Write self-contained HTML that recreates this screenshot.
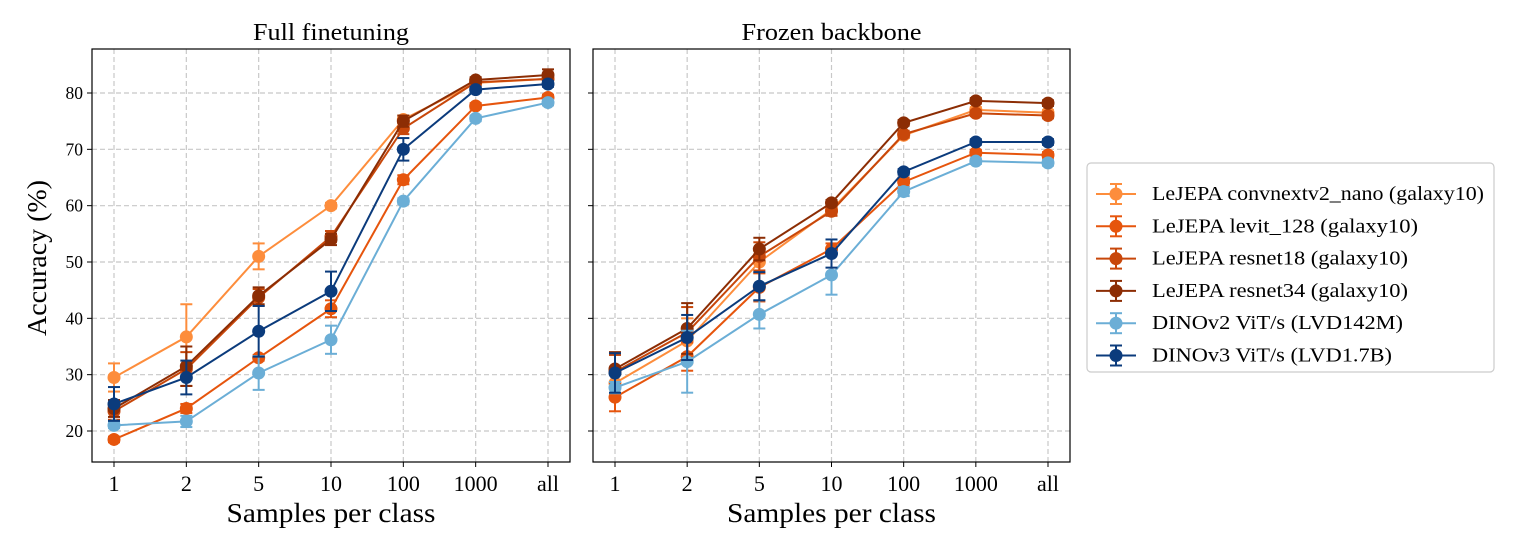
<!DOCTYPE html>
<html><head><meta charset="utf-8"><style>
html,body{margin:0;padding:0;background:#fff;}
svg{display:block;font-family:"Liberation Serif",serif;}
</style></head><body>
<svg id="chart" width="1515" height="546" xmlns="http://www.w3.org/2000/svg"></svg>
<script>
const categories = ["1","2","5","10","100","1000","all"];
const yTicks = [20,30,40,50,60,70,80];
const seriesNames = ["LeJEPA convnextv2_nano (galaxy10)","LeJEPA levit_128 (galaxy10)","LeJEPA resnet18 (galaxy10)","LeJEPA resnet34 (galaxy10)","DINOv2 ViT/s (LVD142M)","DINOv3 ViT/s (LVD1.7B)"];
const seriesColors = ["#fd8d3c","#e6550d","#c8470a","#8c2d04","#6baed6","#0b3b7c"];
const fullConvnext = [29.5,36.7,51.0,60.0,75.3,81.8,82.5];
const fullLevit = [18.5,24.0,33.0,41.7,64.6,77.7,79.2];
const fullResnet18 = [23.5,31.0,43.7,54.5,73.7,81.9,82.5];
const fullResnet34 = [24.0,31.5,44.0,54.0,75.0,82.3,83.2];
const fullDinov2 = [21.0,21.7,30.3,36.2,60.8,75.5,78.3];
const fullDinov3 = [24.8,29.5,37.7,44.8,70.0,80.6,81.6];
const fullConvnextErr = [2.5,5.8,2.3,0.5,0.7,0.5,0.5];
const fullLevitErr = [0.5,0.8,0.5,1.5,0.8,0.5,0.5];
const fullResnet18Err = [1.5,3.0,1.5,1.0,1.0,0.5,0.5];
const fullResnet34Err = [1.5,3.5,1.5,1.0,1.0,0.5,1.0];
const fullDinov2Err = [0.5,1.0,3.0,2.5,0.5,0.5,0.5];
const fullDinov3Err = [3.0,3.0,4.5,3.5,2.0,0.5,0.5];
const frozConvnext = [28.5,36.0,50.0,59.3,72.5,77.0,76.5];
const frozLevit = [26.0,33.2,45.5,52.3,64.2,69.4,69.0];
const frozResnet18 = [30.5,37.5,51.0,59.0,72.7,76.4,76.0];
const frozResnet34 = [31.0,38.2,52.3,60.5,74.7,78.6,78.2];
const frozDinov2 = [27.7,32.3,40.7,47.7,62.5,67.9,67.6];
const frozDinov3 = [30.3,36.6,45.7,51.5,66.0,71.3,71.3];
const frozConvnextErr = [2.0,4.0,2.0,0.8,0.5,0.5,0.5];
const frozLevitErr = [2.5,2.5,2.5,1.0,0.8,0.5,0.5];
const frozResnet18Err = [3.0,4.5,2.5,0.8,0.6,0.5,0.5];
const frozResnet34Err = [3.0,4.5,2.0,0.5,0.5,0.5,0.5];
const frozDinov2Err = [1.0,5.5,2.5,3.5,0.8,0.5,0.5];
const frozDinov3Err = [3.5,4.0,2.5,2.5,0.5,0.5,0.5];

const fullData=[fullConvnext,fullLevit,fullResnet18,fullResnet34,fullDinov2,fullDinov3];
const fullErr=[fullConvnextErr,fullLevitErr,fullResnet18Err,fullResnet34Err,fullDinov2Err,fullDinov3Err];
const frozData=[frozConvnext,frozLevit,frozResnet18,frozResnet34,frozDinov2,frozDinov3];
const frozErr=[frozConvnextErr,frozLevitErr,frozResnet18Err,frozResnet34Err,frozDinov2Err,frozDinov3Err];

const svg=document.getElementById('chart');
const NS="http://www.w3.org/2000/svg";
function mk(tag,attrs,parent){const e=document.createElementNS(NS,tag);for(const k in attrs)e.setAttribute(k,attrs[k]);(parent||svg).appendChild(e);return e;}
const yTop=49,yBot=462;
function yS(v){return 431-(v-20)*(338/60);}

function panel(x0,x1,title,titleLen,data,errs,key,showY){
  const g=mk('g',{});
  
  
  const xs=i=>x0+22+i*((x1-x0-44)/6);
  categories.forEach((c,i)=>{
    const l=mk('line',{x1:xs(i),x2:xs(i),y1:yTop,y2:yBot,stroke:'#c8c8c8','stroke-width':1.2,'stroke-dasharray':'5,3'},g);
    
    mk('line',{x1:xs(i),x2:xs(i),y1:yBot,y2:yBot+5,stroke:'#000'},g);
    const t=mk('text',{x:xs(i),y:491,'text-anchor':'middle','font-size':22},g);
    t.textContent=c;
  });
  yTicks.forEach(v=>{
    const l=mk('line',{x1:x0,x2:x1,y1:yS(v),y2:yS(v),stroke:'#c8c8c8','stroke-width':1.2,'stroke-dasharray':'5,3'},g);
    
    mk('line',{x1:x0-5,x2:x0,y1:yS(v),y2:yS(v),stroke:'#000'},g);
    if(showY){const t=mk('text',{x:x0-9,y:yS(v)+6,'text-anchor':'end','font-size':17.5},g);
    t.textContent=v;}
  });
  data.forEach((s,si)=>{
    const col=seriesColors[si];
    const sg=mk('g',{},g);
    
    mk('polyline',{points:s.map((v,i)=>xs(i)+','+yS(v)).join(' '),fill:'none',stroke:col,'stroke-width':2},sg);
    s.forEach((v,i)=>{
      const e=errs[si][i],x=xs(i);
      mk('line',{x1:x,x2:x,y1:yS(v-e),y2:yS(v+e),stroke:col,'stroke-width':2},sg);
      mk('line',{x1:x-6,x2:x+6,y1:yS(v-e),y2:yS(v-e),stroke:col,'stroke-width':2},sg);
      mk('line',{x1:x-6,x2:x+6,y1:yS(v+e),y2:yS(v+e),stroke:col,'stroke-width':2},sg);
      const c=mk('circle',{cx:x,cy:yS(v),r:6.5,fill:col},sg);
      
    });
  });
  const r=mk('rect',{x:x0,y:yTop,width:x1-x0,height:yBot-yTop,fill:'none',stroke:'#000','stroke-width':1.2},g);
  
  const t=mk('text',{x:(x0+x1)/2,y:40,'text-anchor':'middle','font-size':24,textLength:titleLen,lengthAdjust:'spacingAndGlyphs'},g);
  t.textContent=title;
  const xl=mk('text',{x:(x0+x1)/2,y:522,'text-anchor':'middle','font-size':27,textLength:209,lengthAdjust:'spacingAndGlyphs'},g);
  xl.textContent='Samples per class';
}
panel(92,570,'Full finetuning',156,fullData,fullErr,'full-finetuning',true);
panel(593,1070,'Frozen backbone',180,frozData,frozErr,'frozen-backbone',false);
const yl=mk('text',{x:0,y:0,'text-anchor':'middle','font-size':27,textLength:156,lengthAdjust:'spacingAndGlyphs',transform:'translate(46,258) rotate(-90)'});
yl.textContent='Accuracy (%)';

const legendWidths=[332,266,256,256,251,240];
const lg=mk('g',{});

mk('rect',{x:1087,y:163,width:407,height:209,rx:4,fill:'#fff',stroke:'#ccc','stroke-width':1.2},lg);
seriesNames.forEach((n,i)=>{
  const y=194+i*32.3,col=seriesColors[i];
  const eg=mk('g',{},lg);
  
  mk('line',{x1:1096,x2:1136,y1:y,y2:y,stroke:col,'stroke-width':2},eg);
  mk('line',{x1:1116,x2:1116,y1:y-10,y2:y+10,stroke:col,'stroke-width':2},eg);
  mk('line',{x1:1110,x2:1122,y1:y-10,y2:y-10,stroke:col,'stroke-width':2},eg);
  mk('line',{x1:1110,x2:1122,y1:y+10,y2:y+10,stroke:col,'stroke-width':2},eg);
  mk('circle',{cx:1116,cy:y,r:6.5,fill:col},eg);
  const t=mk('text',{x:1152,y:y+6,'font-size':19.5,textLength:legendWidths[i],lengthAdjust:'spacingAndGlyphs'},eg);t.textContent=n;
});
</script>
</body></html>
